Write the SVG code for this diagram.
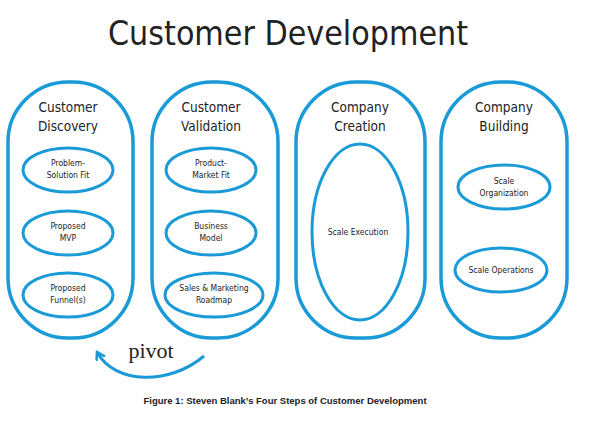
<svg xmlns="http://www.w3.org/2000/svg" width="606" height="432" viewBox="0 0 606 432">
<style>
.pill{fill:none;stroke:#1a9ad6;stroke-width:3.5}
.ov{fill:none;stroke:#1a9ad6;stroke-width:3}
.h{font-family:"DejaVu Sans Condensed","DejaVu Sans",sans-serif;font-stretch:condensed;font-size:13.5px;fill:#222;text-anchor:middle}
.s{font-family:"DejaVu Sans Condensed","DejaVu Sans",sans-serif;font-stretch:condensed;font-size:8.5px;fill:#222;text-anchor:middle}
</style>
<defs><marker id="ah" markerWidth="12" markerHeight="12" refX="8" refY="5" orient="auto" markerUnits="userSpaceOnUse"><path d="M0,0 L8,5 L0,10" fill="none" stroke="#1a9ad6" stroke-width="2.5"/></marker></defs>
<rect width="606" height="432" fill="#fff"/>
<text x="288" y="45" font-family="DejaVu Sans Condensed,DejaVu Sans,sans-serif" font-stretch="condensed" font-size="33" fill="#222" text-anchor="middle" textLength="360" lengthAdjust="spacingAndGlyphs">Customer Development</text>
<g id="discovery">
<rect class="pill" x="8" y="82" width="125" height="256" rx="60"/>
<text class="h" x="68" y="112">Customer</text><text class="h" x="68" y="131">Discovery</text>
<ellipse class="ov" cx="68" cy="170" rx="45" ry="22"/><text class="s" x="68" y="166">Problem-</text><text class="s" x="68" y="178">Solution Fit</text>
<ellipse class="ov" cx="68" cy="233" rx="45" ry="22"/><text class="s" x="68" y="229">Proposed</text><text class="s" x="68" y="241">MVP</text>
<ellipse class="ov" cx="68" cy="295" rx="45" ry="22"/><text class="s" x="68" y="291">Proposed</text><text class="s" x="68" y="303">Funnel(s)</text>
</g>
<g id="validation">
<rect class="pill" x="152" y="82" width="126" height="256" rx="60"/>
<text class="h" x="211" y="112">Customer</text><text class="h" x="211" y="131">Validation</text>
<ellipse class="ov" cx="211" cy="170" rx="45" ry="22"/><text class="s" x="211" y="166">Product-</text><text class="s" x="211" y="178">Market Fit</text>
<ellipse class="ov" cx="211" cy="233" rx="45" ry="22"/><text class="s" x="211" y="229">Business</text><text class="s" x="211" y="241">Model</text>
<ellipse class="ov" cx="214" cy="295" rx="49" ry="22"/><text class="s" x="214" y="291">Sales &amp; Marketing</text><text class="s" x="214" y="303">Roadmap</text>
</g>
<g id="creation">
<rect class="pill" x="296" y="82" width="129" height="256" rx="60"/>
<text class="h" x="360" y="112">Company</text><text class="h" x="360" y="131">Creation</text>
<ellipse class="ov" cx="360" cy="232" rx="48" ry="88"/><text class="s" x="358" y="235">Scale Execution</text>
</g>
<g id="building">
<rect class="pill" x="441" y="82" width="126" height="256" rx="60"/>
<text class="h" x="504" y="112">Company</text><text class="h" x="504" y="131">Building</text>
<ellipse class="ov" cx="504" cy="187" rx="46" ry="22"/><text class="s" x="504" y="184">Scale</text><text class="s" x="504" y="196">Organization</text>
<ellipse class="ov" cx="501" cy="270" rx="46" ry="22"/><text class="s" x="501" y="273">Scale Operations</text>
</g>
<g id="connectors">
<path d="M204,356 C170,385 115,385 97,352" fill="none" stroke="#1a9ad6" stroke-width="3" marker-end="url(#ah)"/>
</g>
<text x="151" y="358" font-family="Liberation Serif,serif" font-size="22" fill="#222" text-anchor="middle">pivot</text>
<text x="285" y="404" font-family="Liberation Sans,sans-serif" font-weight="bold" font-size="9.5" fill="#222" text-anchor="middle">Figure 1: Steven Blank’s Four Steps of Customer Development</text>
</svg>
